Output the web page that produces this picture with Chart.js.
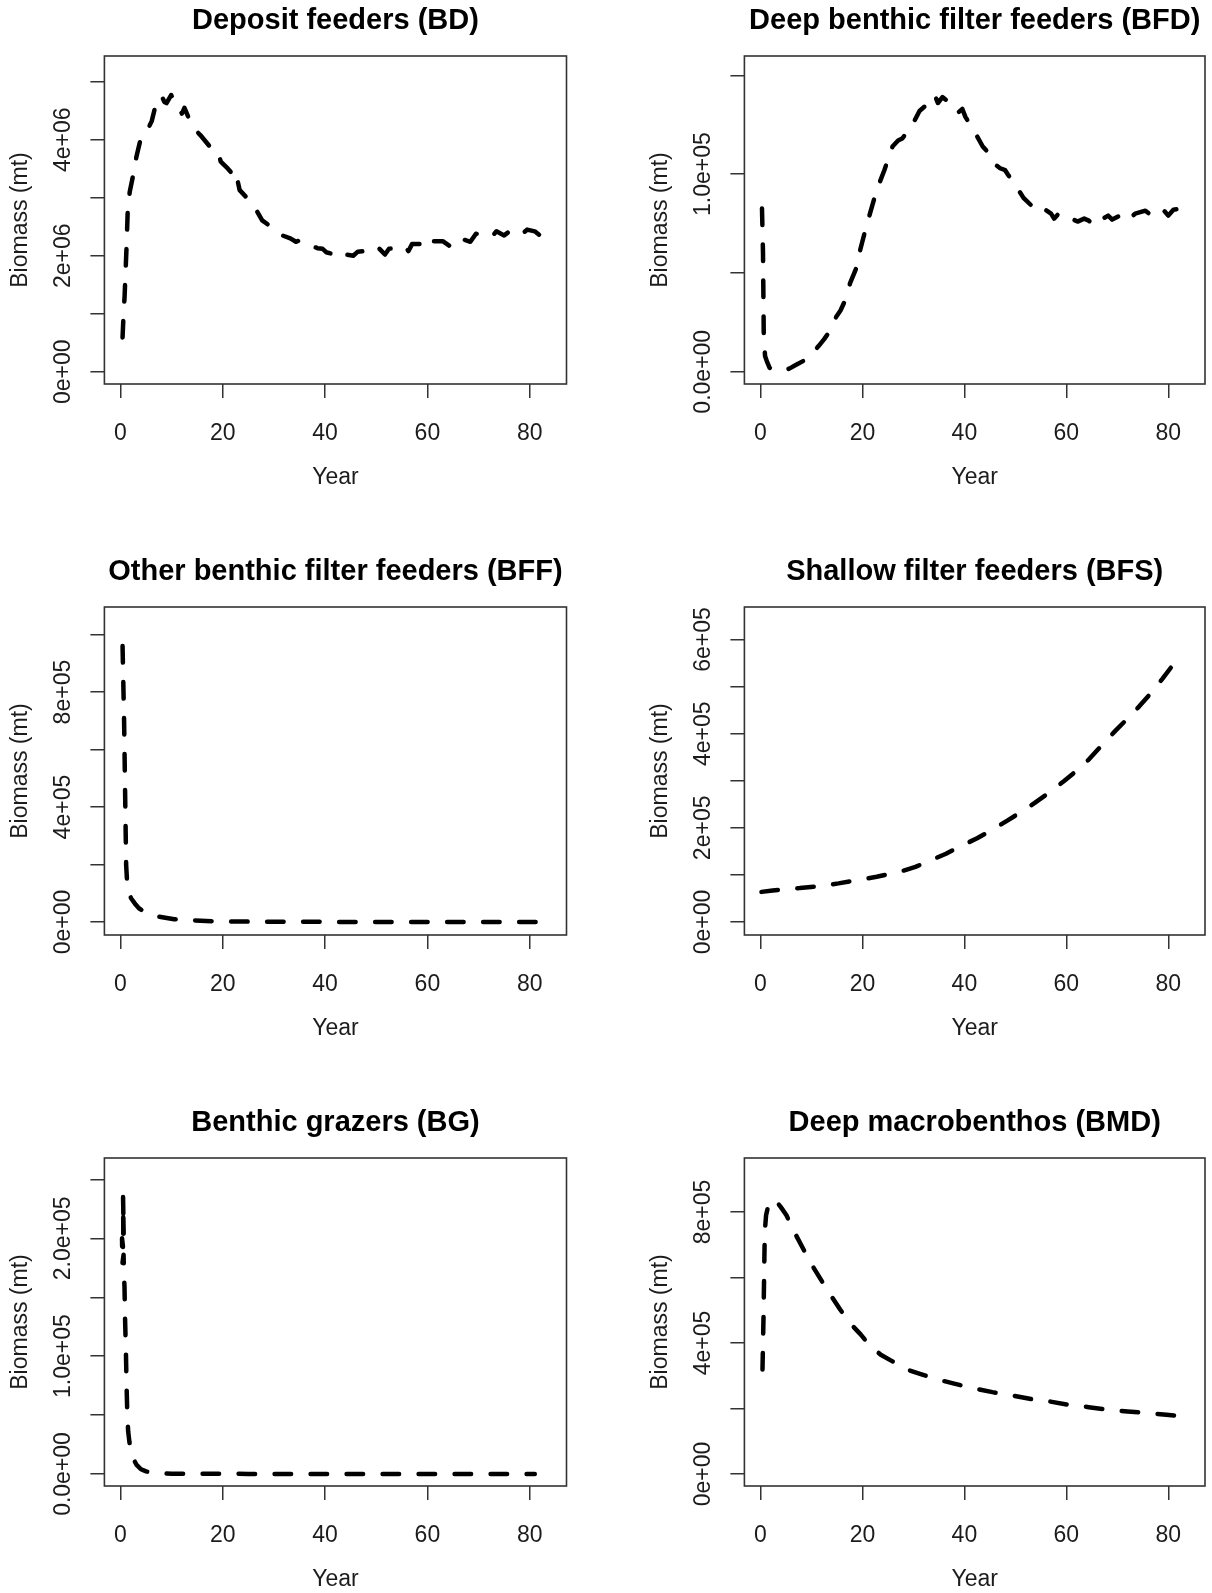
<!DOCTYPE html>
<html lang="en">
<head>
<meta charset="UTF-8">
<title>Benthic groups biomass</title>
<script src="https://cdn.jsdelivr.net/npm/chart.js@4.4.0/dist/chart.umd.min.js"></script>
<style>
  body { margin: 0; background: #fff; width: 1212px; height: 1593px; overflow: hidden; position: relative; }
  canvas { position: absolute; }
</style>
</head>
<body>
<canvas id="bd" width="606" height="600"></canvas>
<canvas id="bfd" width="606" height="600"></canvas>
<canvas id="bff" width="606" height="600"></canvas>
<canvas id="bfs" width="606" height="600"></canvas>
<canvas id="bg" width="606" height="600"></canvas>
<canvas id="bmd" width="606" height="600"></canvas>
<script>
// biomass (mt) by year for each group
const bdYear = [0.4,0.6,0.8,1.0,1.2,1.4,1.8,2.5,3.1,3.9,4.9,6.1,6.8,8.0,8.6,9.0,9.9,11.2,12.0,12.5,13.4,14.7,15.6,17.3,18.4,19.0,19.6,21.0,22.1,22.5,23.3,24.8,26.2,27.7,29.4,31.3,33.2,34.3,35.2,36.5,38.5,39.5,40.2,41.5,42.5,43.4,44.0,45.5,46.4,48.0,49.5,50.5,51.7,52.5,54.0,55.5,56.3,57.0,59.0,60.0,61.0,63.0,64.5,65.5,67.0,68.4,69.5,71.0,72.5,73.5,75.0,76.5,77.5,78.6,79.5,81.0,82.3,83.0];
const bdBiomass = [590000,1000000,1300000,1750000,2200000,2750000,3100000,3400000,3700000,4000000,4100000,4320000,4570000,4760000,4650000,4630000,4770000,4570000,4450000,4550000,4360000,4160000,4080000,3900000,3840000,3820000,3620000,3500000,3390000,3450000,3130000,2990000,2840000,2610000,2500000,2360000,2300000,2240000,2270000,2200000,2130000,2120000,2060000,2030000,2000000,1960000,2020000,2000000,2070000,2080000,2050000,2130000,2020000,2120000,2130000,2170000,2080000,2200000,2200000,2130000,2250000,2250000,2160000,2280000,2280000,2240000,2380000,2350000,2320000,2420000,2350000,2450000,2430000,2380000,2450000,2420000,2330000,2400000];

const bfdYear = [0.3,0.5,0.65,0.9,1.3,1.8,2.3,3.5,5.0,5.75,7.0,8.8,10.0,11.4,12.5,13.6,14.9,15.7,16.7,17.6,19.0,19.6,20.6,21.7,22.8,24.3,25.9,27.0,27.8,29.6,31.2,33.0,34.2,34.8,35.7,37.2,38.7,39.6,40.2,42.1,43.6,45.0,45.5,47.0,48.0,48.5,50.1,51.6,53.0,53.8,55.3,57.0,57.6,58.5,60.0,60.6,62.2,63.5,64.4,65.5,66.5,68.2,69.0,70.5,72.0,72.4,73.5,75.5,76.5,77.5,79.0,80.0,81.0,82.5,84.0];
const bfdBiomass = [82600,60000,18000,8000,5000,2000,1000,500,1000,1700,3500,6000,9000,13000,16500,20600,28000,31000,36600,45000,53700,62000,72000,82000,92000,102000,114000,117000,118000,124000,132000,136000,140000,136000,139000,136000,131000,133000,129000,121000,114000,110000,106000,103000,102000,100000,94000,88000,84500,86000,83000,80000,77500,80000,79500,78000,76000,77500,76500,74000,76500,79000,77000,79000,79500,77500,80000,81500,79500,82000,82000,79000,82000,82500,83500];

const bffYear = [0.4,0.7,0.9,1.1,1.3,1.6,2.1,3.0,3.6,5.2,7.4,10.5,14.2,18,25,35,50,65,81.5];
const bffBiomass = [960000,700000,450000,200000,135000,100000,82000,60000,48000,30000,19000,10000,6000,3000,1500,800,400,200,100];

const bfsYear = [0.2,2.4,5,7.7,10.7,15.3,19,22.8,27.4,30.4,33.4,36.4,39.5,42.5,45.5,48.5,51.2,53.8,56.9,59.5,62.2,64.4,67.1,69.7,72,74.3,76.5,78.8,80.7,82.8];
const bfsBiomass = [64000,67000,70000,72000,75000,82000,89000,96000,107000,117000,131000,145000,162000,178000,196000,216000,234000,253000,277000,299000,323000,345000,377000,407000,432000,458000,485000,516000,543000,572000];

const bgYear = [0.5,0.62,0.52,0.55,0.3,0.35,0.6,0.7,0.78,0.9,1.05,1.2,1.35,1.5,1.75,2.0,2.5,3.1,4,5,6.2,8,10,15,25,40,60,81];
const bgBiomass = [235000,204000,226000,190000,200000,178000,186000,166000,159000,130000,105000,72000,48000,36000,27000,20600,13000,8000,4000,2200,1200,600,300,150,80,40,20,10];

const bmdYear = [0.4,0.6,0.75,0.85,1.1,1.6,2.2,2.9,4.0,5.1,6.5,8.3,9.8,11.8,13.6,15.6,17.6,19.6,21.3,23.6,25.9,28.9,31.9,34.9,38,41.7,45.5,49.3,53.1,56.9,60.6,64.4,68.2,72,75.8,79.6,84.1];
const bmdBiomass = [319000,480000,640000,740000,790000,824000,835000,837000,815000,790000,743000,690000,646000,595000,550000,503000,460000,427000,395000,364000,344000,318000,303000,288000,276000,262000,250000,240000,229000,221000,211000,204000,196000,191000,186000,181000,173000];

// axis ticks and their printed labels
const yearTicks = [0, 20, 40, 60, 80];
const bdTicks = [0, 1e6, 2e6, 3e6, 4e6, 5e6];
const bdTickLabels = ['0e+00', '', '2e+06', '', '4e+06', ''];
const bfdTicks = [0, 5e4, 1e5, 1.5e5];
const bfdTickLabels = ['0.0e+00', '', '1.0e+05', ''];
const bffTicks = [0, 2e5, 4e5, 6e5, 8e5, 1e6];
const bffTickLabels = ['0e+00', '', '4e+05', '', '8e+05', ''];
const bfsTicks = [0, 1e5, 2e5, 3e5, 4e5, 5e5, 6e5];
const bfsTickLabels = ['0e+00', '', '2e+05', '', '4e+05', '', '6e+05'];
const bgTicks = [0, 5e4, 1e5, 1.5e5, 2e5, 2.5e5];
const bgTickLabels = ['0.0e+00', '', '1.0e+05', '', '2.0e+05', ''];
const bmdTicks = [0, 2e5, 4e5, 6e5, 8e5];
const bmdTickLabels = ['0e+00', '', '4e+05', '', '8e+05'];

const FONT = "'Liberation Sans', Arial, sans-serif";
const TEXT = 23;
Chart.defaults.font.family = FONT;
Chart.defaults.color = '#1c1c1c';

// plot frame like R's box()
const frame = {
  id: 'frame',
  beforeDatasetsDraw(chart) {
    const {ctx, chartArea: a} = chart;
    ctx.save();
    ctx.strokeStyle = '#333';
    ctx.lineWidth = 1.6;
    ctx.strokeRect(a.left, a.top, a.right - a.left, a.bottom - a.top);
    ctx.restore();
  }
};

function widest(labels) {
  const ctx = document.createElement('canvas').getContext('2d');
  ctx.font = TEXT + 'px ' + FONT;
  return Math.max(...labels.map(l => ctx.measureText(l).width));
}

// column / row geometry of the 2x3 grid
const cols = [{x: 0, boxLeft: 104.4, boxRight: 566.5}, {x: 606, boxLeft: 138.4, boxRight: 599}];
const rows = [56, 606.7, 1158.3];
const H = 600, TOP = 80, BOX_H = 328, TICK = 14;

function panel(id, col, row, title, years, biomass, ticks, tickLabels, yMin, yMax) {
  const c = cols[col];
  const el = document.getElementById(id);
  el.style.left = c.x + 'px';
  el.style.top = (rows[row] - TOP) + 'px';
  const titleLH = 29 * 1.2;
  const tPad = TOP - 35 - titleLH / 2;
  const xAxisH = H - TOP - BOX_H;

  new Chart(el, {
    type: 'line',
    data: {
      datasets: [{
        data: years.map((x, i) => ({x: x, y: biomass[i]})),
        borderColor: '#000',
        borderWidth: 4.5,
        borderDash: [16.5, 19.5],
        borderCapStyle: 'round',
        borderJoinStyle: 'round',
        pointRadius: 0,
        tension: 0,
        fill: false
      }]
    },
    options: {
      responsive: false,
      animation: false,
      devicePixelRatio: 1,
      layout: {padding: {left: 0, top: 0, bottom: 0, right: 606 - c.boxRight}},
      plugins: {
        legend: {display: false},
        tooltip: {enabled: false},
        title: {
          display: true,
          text: title,
          fullSize: false,
          color: '#000',
          font: {size: 29, weight: 'bold'},
          padding: {top: tPad, bottom: TOP - tPad - titleLH}
        }
      },
      scales: {
        x: {
          type: 'linear',
          min: -3.15,
          max: 87.2,
          afterBuildTicks: s => { s.ticks = yearTicks.map(v => ({value: v})); },
          afterFit: s => { s.height = xAxisH; },
          ticks: {autoSkip: false, maxRotation: 0, padding: 22, font: {size: TEXT}},
          grid: {drawOnChartArea: false, tickLength: TICK, color: '#333', lineWidth: 1.5},
          border: {display: false},
          title: {display: true, text: 'Year', font: {size: TEXT},
                  padding: {top: 0, bottom: xAxisH - 93.5 - TEXT * 0.6}}
        },
        y: {
          min: yMin,
          max: yMax,
          afterBuildTicks: s => { s.ticks = ticks.map(v => ({value: v})); },
          afterFit: s => { s.width = c.boxLeft; },
          ticks: {
            autoSkip: false, minRotation: 90, maxRotation: 90, crossAlign: 'center',
            padding: 41 - TICK - widest(tickLabels) / 2, font: {size: TEXT},
            callback: (v, i) => tickLabels[i]
          },
          grid: {drawOnChartArea: false, tickLength: TICK, color: '#333', lineWidth: 1.5},
          border: {display: false},
          title: {display: true, text: 'Biomass (mt)', font: {size: TEXT},
                  padding: {top: c.boxLeft - 83.7 - TEXT * 0.6, bottom: 0}}
        }
      }
    },
    plugins: [frame]
  });
}

panel('bd', 0, 0, 'Deposit feeders (BD)', bdYear, bdBiomass, bdTicks, bdTickLabels, -212000, 5443000);
panel('bfd', 1, 0, 'Deep benthic filter feeders (BFD)', bfdYear, bfdBiomass, bfdTicks, bfdTickLabels, -6200, 159800);
panel('bff', 0, 1, 'Other benthic filter feeders (BFF)', bffYear, bffBiomass, bffTicks, bffTickLabels, -45000, 1096000);
panel('bfs', 1, 1, 'Shallow filter feeders (BFS)', bfsYear, bfsBiomass, bfsTicks, bfsTickLabels, -27600, 669000);
panel('bg', 0, 2, 'Benthic grazers (BG)', bgYear, bgBiomass, bgTicks, bgTickLabels, -10200, 268200);
panel('bmd', 1, 2, 'Deep macrobenthos (BMD)', bmdYear, bmdBiomass, bmdTicks, bmdTickLabels, -36700, 965000);
</script>
</body>
</html>
